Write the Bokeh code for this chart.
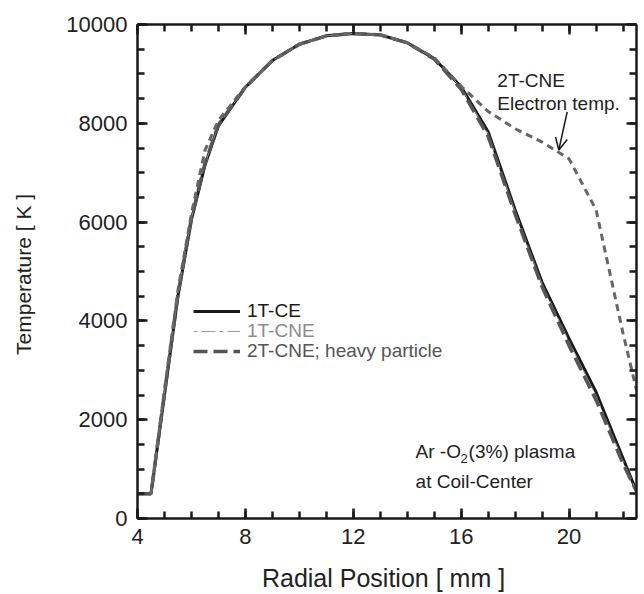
from bokeh.plotting import figure
from bokeh.models import (Range1d, LinearAxis, FixedTicker, Label, Arrow, OpenHead,
                          Legend, LegendItem)
from bokeh.embed import file_html
from bokeh.resources import INLINE

# ---------------- data ----------------
radial_mm = [4, 4.5, 5, 5.5, 6, 6.5, 7, 8, 9, 10, 11, 12, 13, 14, 15, 16, 17, 18, 19, 20, 21, 22, 22.5]
t_1t_ce = [500, 500, 2500, 4500, 6050, 7150, 7950, 8730, 9270, 9600, 9770, 9820, 9790, 9630, 9310,
           8740, 7830, 6250, 4780, 3640, 2560, 1220, 550]
t_1t_cne = [500, 500, 2520, 4520, 6070, 7170, 7960, 8730, 9270, 9600, 9770, 9820, 9790, 9630, 9310,
            8720, 7790, 6210, 4740, 3580, 2480, 1170, 550]
t_2t_heavy = [500, 500, 2540, 4540, 6080, 7190, 7970, 8730, 9270, 9600, 9770, 9820, 9790, 9630, 9300,
              8690, 7740, 6160, 4690, 3500, 2400, 1110, 550]
t_2t_electron = [500, 500, 2600, 4620, 6170, 7450, 8060, 8740, 9270, 9600, 9770, 9820, 9790, 9630, 9330,
                 8750, 8240, 7890, 7620, 7280, 6250, 3750, 2600]

x_major = [4, 8, 12, 16, 20]
x_minor = list(range(4, 23))
y_major = [0, 2000, 4000, 6000, 8000, 10000]
y_minor = list(range(0, 10001, 500))

FONT = "Liberation Sans"

p = figure(width=644, height=594, output_backend="svg", toolbar_location=None,
           x_range=Range1d(4, 22.5), y_range=Range1d(0, 10000),
           min_border_left=137, min_border_right=8, min_border_top=24, min_border_bottom=74)
p.grid.visible = False
p.outline_line_color = None
p.background_fill_color = "white"
p.border_fill_color = "white"

def style_axis(ax, ticks, minor, show_labels):
    ax.ticker = FixedTicker(ticks=ticks, minor_ticks=minor)
    ax.axis_line_width = 2.5
    ax.axis_line_color = "#1a1a1a"
    ax.major_tick_line_width = 2.5
    ax.major_tick_line_color = "#1a1a1a"
    ax.minor_tick_line_width = 2.5
    ax.minor_tick_line_color = "#1a1a1a"
    ax.major_tick_in = 10
    ax.major_tick_out = 0
    ax.minor_tick_in = 7
    ax.minor_tick_out = 0
    if show_labels:
        ax.major_label_text_font = FONT
        ax.major_label_text_font_size = "22px"
        ax.major_label_text_color = "#222222"
        ax.major_label_standoff = 10
    else:
        ax.major_label_text_font_size = "0px"
        ax.major_label_text_color = None
        ax.major_label_standoff = 0

xa = p.xaxis[0]
ya = p.yaxis[0]
style_axis(xa, x_major, x_minor, True)
style_axis(ya, y_major, y_minor, True)
xa.axis_label = "Radial Position  [ mm ]"
ya.axis_label = "Temperature  [ K ]"
for ax, size, so in ((xa, "25px", 17), (ya, "21px", 28)):
    ax.axis_label_text_font = FONT
    ax.axis_label_text_font_size = size
    ax.axis_label_text_font_style = "normal"
    ax.axis_label_text_color = "#222222"
    ax.axis_label_standoff = so

top = LinearAxis()
right = LinearAxis()
style_axis(top, x_major, x_minor, False)
style_axis(right, y_major, y_minor, False)
p.add_layout(top, "above")
p.add_layout(right, "right")

# ---------------- curves ----------------
r_ce = p.line(radial_mm, t_1t_ce, line_color="#1a1a1a", line_width=3)
r_cne = p.line(radial_mm, t_1t_cne, line_color="#9a9a9a", line_width=1, line_dash="4 4 14 4")
r_heavy = p.line(radial_mm, t_2t_heavy, line_color="#555555", line_width=3.5, line_dash="14 6")
r_elec = p.line(radial_mm, t_2t_electron, line_color="#666666", line_width=3, line_dash="7 5")

# ---------------- legend (one per entry for individual text colours) ----------------
legend_specs = [("1T-CE", r_ce, "#1a1a1a", 196),
                ("1T-CNE", r_cne, "#8c8c8c", 176),
                ("2T-CNE; heavy particle", r_heavy, "#555555", 156)]
for lab, rend, col, ypos in legend_specs:
    lg = Legend(items=[LegendItem(label=lab, renderers=[rend])], location=(56, ypos),
                glyph_width=47, glyph_height=20, label_height=20, label_standoff=7,
                padding=0, margin=0, spacing=0, border_line_alpha=0, background_fill_alpha=0,
                label_text_font=FONT, label_text_font_size="19px", label_text_color=col)
    p.add_layout(lg)

# ---------------- annotations ----------------
ann_font = dict(text_font=FONT, text_font_size="19px", text_color="#222222", text_baseline="middle")
p.add_layout(Label(x=17.34, y=8871, text="2T-CNE", **ann_font))
p.add_layout(Label(x=17.34, y=8401, text="Electron temp.", **ann_font))
p.add_layout(Arrow(end=OpenHead(size=12, line_width=1.5, line_color="#1a1a1a"),
                   x_start=19.93, y_start=8232, x_end=19.62, y_end=7460,
                   line_width=1.5, line_color="#1a1a1a"))

p.add_layout(Label(x=14.31, y=1361, text="Ar -O", **ann_font))
p.add_layout(Label(x=14.31, y=1361, x_offset=45, y_offset=-7, text="2",
                   text_font=FONT, text_font_size="13px", text_color="#222222", text_baseline="middle"))
p.add_layout(Label(x=14.31, y=1361, x_offset=53, text="(3%) plasma", **ann_font))
p.add_layout(Label(x=14.31, y=746, text="at Coil-Center", **ann_font))

open("out.html", "w").write(file_html(p, INLINE))
